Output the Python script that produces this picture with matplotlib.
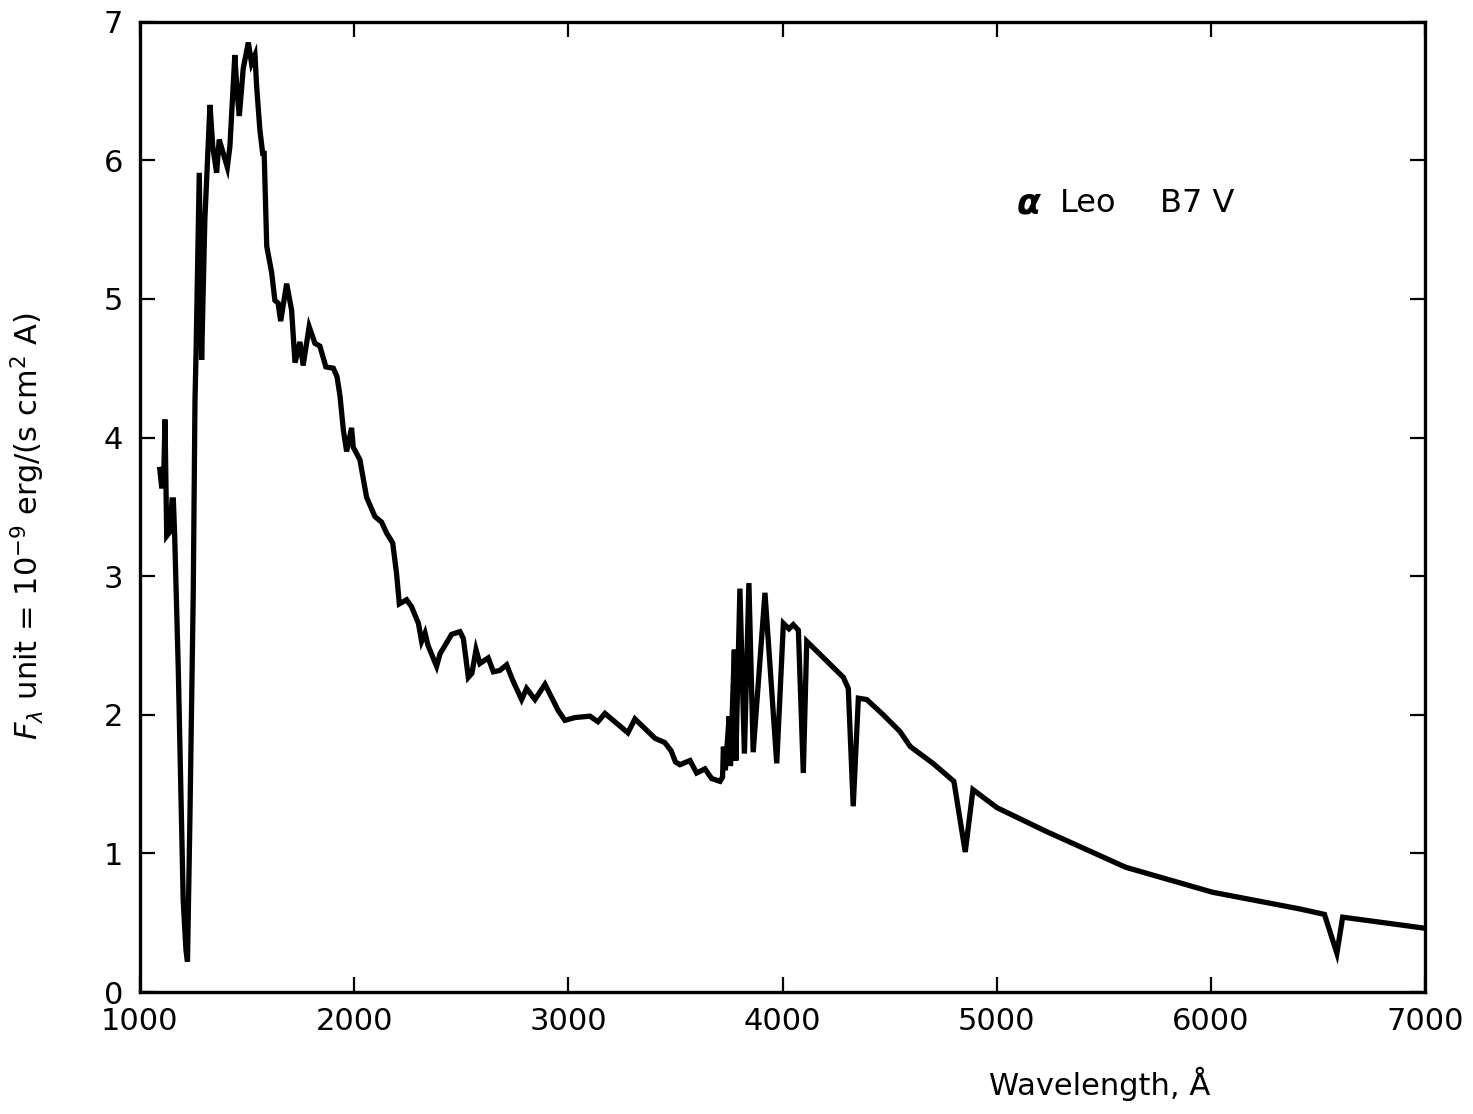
import numpy as np
import matplotlib.pyplot as plt

plt.rcParams['font.family'] = ['DejaVu Sans']
plt.rcParams['mathtext.fontset'] = 'dejavusans'

# alpha Leo spectrum, wavelength in Angstrom and flux in 1e-9 erg/(s cm^2 A)
wavelength = [1093, 1101, 1110, 1117, 1125, 1140, 1150, 1156, 1162, 1179, 1202, 1215, 1222,
              1233, 1249, 1257, 1262, 1277, 1288, 1303, 1327, 1340, 1358, 1370, 1389, 1408,
              1420, 1443, 1454, 1464, 1482, 1506, 1521, 1537, 1545, 1560, 1573, 1580, 1592,
              1615, 1630, 1645, 1657, 1685, 1708, 1724, 1747, 1762, 1790, 1817, 1840, 1868,
              1903, 1920, 1934, 1950, 1965, 1988, 1996, 2027, 2058, 2097, 2128, 2152, 2180,
              2198, 2211, 2245, 2268, 2300, 2315, 2331, 2345, 2385, 2401, 2455, 2494, 2510,
              2533, 2550, 2569, 2587, 2626, 2650, 2680, 2712, 2740, 2782, 2805, 2844, 2891,
              2953, 2984, 3031, 3101, 3138, 3171, 3232, 3278, 3311, 3358, 3405, 3450, 3480,
              3500, 3521, 3568, 3599, 3638, 3669, 3708, 3720, 3724, 3733, 3751, 3757, 3775,
              3782, 3801, 3822, 3843, 3863, 3918, 3973, 4004, 4030, 4050, 4074, 4097, 4113,
              4284, 4307, 4330, 4354, 4393, 4470, 4548, 4597, 4702, 4800, 4853, 4889, 5001,
              5229, 5602, 6007, 6413, 6530, 6588, 6615, 7000]
flux = [3.77, 3.65, 3.65, 4.13, 3.29, 3.32, 3.55, 3.55, 3.30, 2.33, 0.66, 0.30, 0.22,
        1.22, 2.89, 4.27, 4.61, 5.91, 4.56, 5.57, 6.40, 6.10, 5.91, 6.15, 6.05, 5.95,
        6.10, 6.76, 6.48, 6.32, 6.66, 6.85, 6.70, 6.76, 6.53, 6.22, 6.05, 6.05, 5.38,
        5.19, 4.99, 4.97, 4.84, 5.11, 4.92, 4.54, 4.69, 4.52, 4.80, 4.68, 4.66, 4.51,
        4.50, 4.44, 4.30, 4.05, 3.90, 4.07, 3.93, 3.84, 3.57, 3.43, 3.39, 3.31, 3.24,
        3.02, 2.80, 2.83, 2.78, 2.66, 2.53, 2.59, 2.50, 2.35, 2.44, 2.58, 2.60, 2.55,
        2.27, 2.30, 2.47, 2.37, 2.41, 2.31, 2.32, 2.36, 2.25, 2.11, 2.19, 2.11, 2.22,
        2.03, 1.96, 1.98, 1.99, 1.95, 2.01, 1.93, 1.87, 1.97, 1.90, 1.83, 1.80, 1.74,
        1.66, 1.64, 1.67, 1.58, 1.61, 1.54, 1.52, 1.55, 1.77, 1.60, 1.99, 1.63, 2.47,
        1.67, 2.91, 1.72, 2.95, 1.73, 2.88, 1.65, 2.66, 2.62, 2.65, 2.61, 1.58, 2.53,
        2.27, 2.19, 1.34, 2.12, 2.11, 2.00, 1.88, 1.77, 1.65, 1.52, 1.01, 1.46, 1.33,
        1.16, 0.90, 0.72, 0.60, 0.56, 0.28, 0.54, 0.46]

xticks = [1000, 2000, 3000, 4000, 5000, 6000, 7000]
yticks = [0, 1, 2, 3, 4, 5, 6, 7]

fig = plt.figure(figsize=(14.73, 11.14), dpi=100)
ax = fig.add_axes([0.095, 0.1095, 0.8725, 0.871])

ax.plot(wavelength, flux, color='black', lw=3.8, solid_joinstyle='miter')

ax.set_xlim(1000, 7000)
ax.set_ylim(0, 7)
ax.set_xticks(xticks)
ax.set_yticks(yticks)
ax.tick_params(direction='in', length=11, width=1.6, labelsize=22,
               top=True, right=True)
ax.tick_params(axis='x', pad=11)
ax.tick_params(axis='y', pad=12)
for sp in ax.spines.values():
    sp.set_linewidth(2.4)

ax.set_ylabel(r'$F_\lambda$ unit = 10$^{-9}$ erg/(s cm$^2$ A)', fontsize=22)
ax.yaxis.set_label_coords(-0.072, 0.48)
ax.set_xlabel('Wavelength, Å', fontsize=22)
ax.xaxis.set_label_coords(0.747, -0.077)

ax.text(0.682, 0.813, 'α', transform=ax.transAxes, fontsize=25,
        fontweight='bold', fontstyle='italic', va='center')
ax.text(0.716, 0.813, 'Leo', transform=ax.transAxes, fontsize=23, va='center')
ax.text(0.794, 0.813, 'B7 V', transform=ax.transAxes, fontsize=23, va='center')

fig.savefig('out.png', dpi=100)
